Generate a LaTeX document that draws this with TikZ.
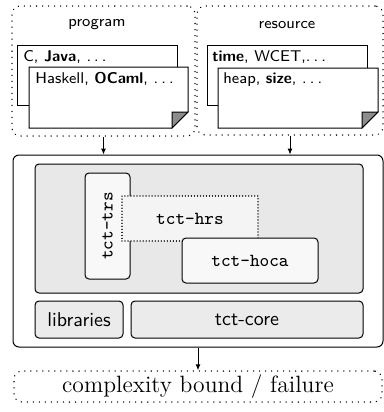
\documentclass[tikz,border=0pt]{standalone}
\usetikzlibrary{arrows.meta}
\definecolor{boxgray}{HTML}{E8E8E8}
\definecolor{modgray}{HTML}{F8F8F8}
\definecolor{hrsgray}{HTML}{F4F4F4}
\definecolor{basegray}{HTML}{EBEBEB}
\definecolor{foldgray}{HTML}{8C8C8C}
\newcommand\mydots{.\kern.2em.\kern.2em.}
\tikzset{
  dots/.style={line width=0.75pt, dash pattern=on 0.01pt off 3pt, line cap=round},
  finedots/.style={line width=0.6pt, dash pattern=on 0.01pt off 1.5pt, line cap=round},
  groupbox/.style={draw, dots, rounded corners=4pt, inner sep=0pt},
  modbox/.style={draw, line width=0.5pt, rounded corners=2pt, inner sep=0pt},
  doc/.style={draw, line width=0.5pt, fill=white},
  lbl/.style={font=\sffamily\fontsize{7.8}{9}\selectfont, inner sep=0pt},
  ttlbl/.style={font=\ttfamily\fontsize{9.2}{11}\selectfont},
  sflbl/.style={font=\sffamily\fontsize{10}{12}\selectfont},
  arr/.style={-{Latex[length=3pt,width=2.6pt]}, line width=0.5pt},
}
\begin{document}
\begin{tikzpicture}[x=0.5pt,y=-0.5pt]
\useasboundingbox (0,0) rectangle (384,412);
% input groups
\node[groupbox, minimum width=91.5pt, minimum height=65pt] (prog) at (103.5,71) {};
\node[groupbox, minimum width=93pt, minimum height=64.5pt] (res) at (290,70.5) {};
\node[lbl] (proglbl) at (97,25) {program};
\node[lbl] (reslbl) at (287,25) {resource};
% program documents
\draw[doc] (17,45) rectangle (177,105);
\node[lbl, anchor=west] (c) at (23,57) {C, \textbf{Java}, \mydots};
\draw[doc] (29,67) -- (188,67) -- (188,112) -- (172,128) -- (29,128) -- cycle;
\draw[line width=0.5pt, fill=foldgray] (188,112) -- (172,112) -- (172,128) -- cycle;
\node[lbl, anchor=west] (hs) at (35,79) {Haskell, \textbf{OCaml}, \mydots};
% resource documents
\draw[doc] (207,45) rectangle (367,105);
\node[lbl, anchor=west] (time) at (212,57) {\textbf{time}, WCET,\mydots};
\draw[doc] (218,68) -- (378,68) -- (378,112) -- (362,128) -- (218,128) -- cycle;
\draw[line width=0.5pt, fill=foldgray] (378,112) -- (362,112) -- (362,128) -- cycle;
\node[lbl, anchor=west] (heap) at (223,80) {heap, \textbf{size}, \mydots};
% main box
\node[draw, line width=0.5pt, rounded corners=3pt, fill=white, minimum width=185pt, minimum height=96pt] (main) at (198,251) {};
\node[modbox, fill=boxgray, minimum width=164pt, minimum height=64.5pt] (inner) at (199,228.5) {};
\node[modbox, fill=modgray, minimum width=22.5pt, minimum height=53pt] (trs) at (107.5,226) {};
\node[ttlbl, rotate=90] (trslbl) at (107.5,226) {tct-trs};
\node[draw, finedots, fill=hrsgray, minimum width=68pt, minimum height=22.5pt, ttlbl] (hrs) at (190,218.5) {tct-hrs};
\node[modbox, fill=modgray, minimum width=68pt, minimum height=22.5pt, ttlbl] (hoca) at (250,260.5) {tct-hoca};
\node[modbox, fill=basegray, minimum width=44pt, minimum height=18.5pt, sflbl] (lib) at (79,319.5) {libraries};
\node[modbox, fill=basegray, minimum width=116pt, minimum height=18.5pt, sflbl] (core) at (247,319.5) {tct-core};
% output
\node[groupbox, minimum width=184pt, minimum height=15.5pt, font=\fontsize{11.8}{14}\selectfont] (out) at (198,386.5) {complexity bound / failure};
% arrows
\draw[arr] (prog.south) -- (prog.south |- main.north);
\draw[arr] (res.south) -- (res.south |- main.north);
\draw[arr] (main.south) -- (out.north);
\end{tikzpicture}
\end{document}
